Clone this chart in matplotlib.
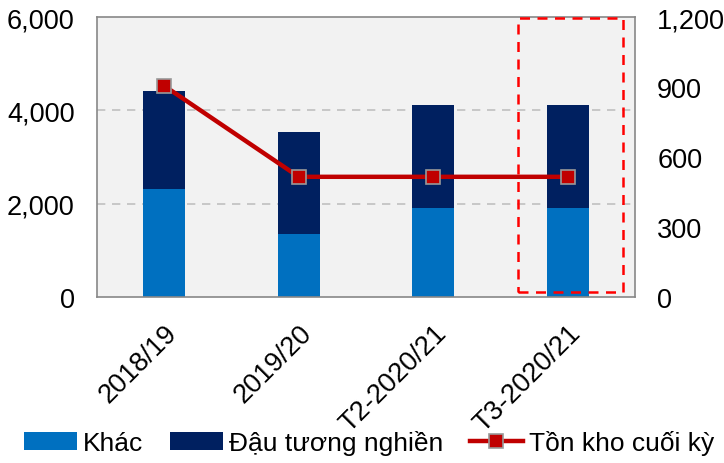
import matplotlib.pyplot as plt
from matplotlib.patches import Rectangle
import numpy as np

plt.rcParams['font.family'] = ['Liberation Sans', 'DejaVu Sans']

# data
categories = ['2018/19', '2019/20', 'T2-2020/21', 'T3-2020/21']
khac = [2320, 1350, 1910, 1910]
dau_tuong = [2090, 2190, 2200, 2200]
ton_kho = [905, 515, 515, 515]

x = np.arange(len(categories))

fig = plt.figure(figsize=(7.24, 4.64), dpi=100)
ax = fig.add_axes([0.134, 0.358, 0.743, 0.603])
ax.set_facecolor('#F2F2F2')

b1 = ax.bar(x, khac, width=0.31, color='#0070C0', zorder=2)
b2 = ax.bar(x, dau_tuong, width=0.31, bottom=khac, color='#002060', zorder=2)
ax.set_xlim(-0.5, 3.5)
ax.set_ylim(0, 6000)
ax.set_yticks([0, 2000, 4000, 6000])
ax.set_yticklabels(['0', '2,000', '4,000', '6,000'])
for v in [2000, 4000]:
    ax.axhline(v, color='#C0C0C0', lw=1.2, ls=(0, (5, 4)), zorder=1)
ax.set_xticks(x)
ax.set_xticklabels(categories, rotation=45, ha='right', rotation_mode='anchor')
ax.tick_params(axis='y', length=0, labelsize=19.5, pad=16)
ax.tick_params(axis='x', length=0, labelsize=19.5, pad=16)
for s in ax.spines.values():
    s.set_color('#888888')
    s.set_linewidth(1.2)

ax2 = ax.twinx()
ax2.set_ylim(0, 1200)
ax2.set_yticks([0, 300, 600, 900, 1200])
ax2.set_yticklabels(['0', '300', '600', '900', '1,200'])
ax2.tick_params(axis='y', length=0, labelsize=19.5, pad=16)
for s in ax2.spines.values():
    s.set_visible(False)
ln, = ax2.plot(x, ton_kho, color='#C00000', lw=3.2, marker='s', ms=10,
               mfc='#C00000', mec='#999999', mew=1.2, zorder=3)

# highlight box around the last period
ax2.add_patch(Rectangle((2.63, 21), 0.78, 1175, fill=False,
                        ec='#FF0000', lw=1.8, ls=(0, (4, 3)), clip_on=False,
                        zorder=4))

fig.legend([b1, b2, ln], ['Khác', 'Đậu tương nghiền', 'Tồn kho cuối kỳ'],
           loc='lower center', bbox_to_anchor=(0.51, -0.035), ncol=3,
           frameon=False, fontsize=19, handlelength=2.0, handletextpad=0.25,
           columnspacing=1.0)

fig.savefig('out.png', dpi=100)
